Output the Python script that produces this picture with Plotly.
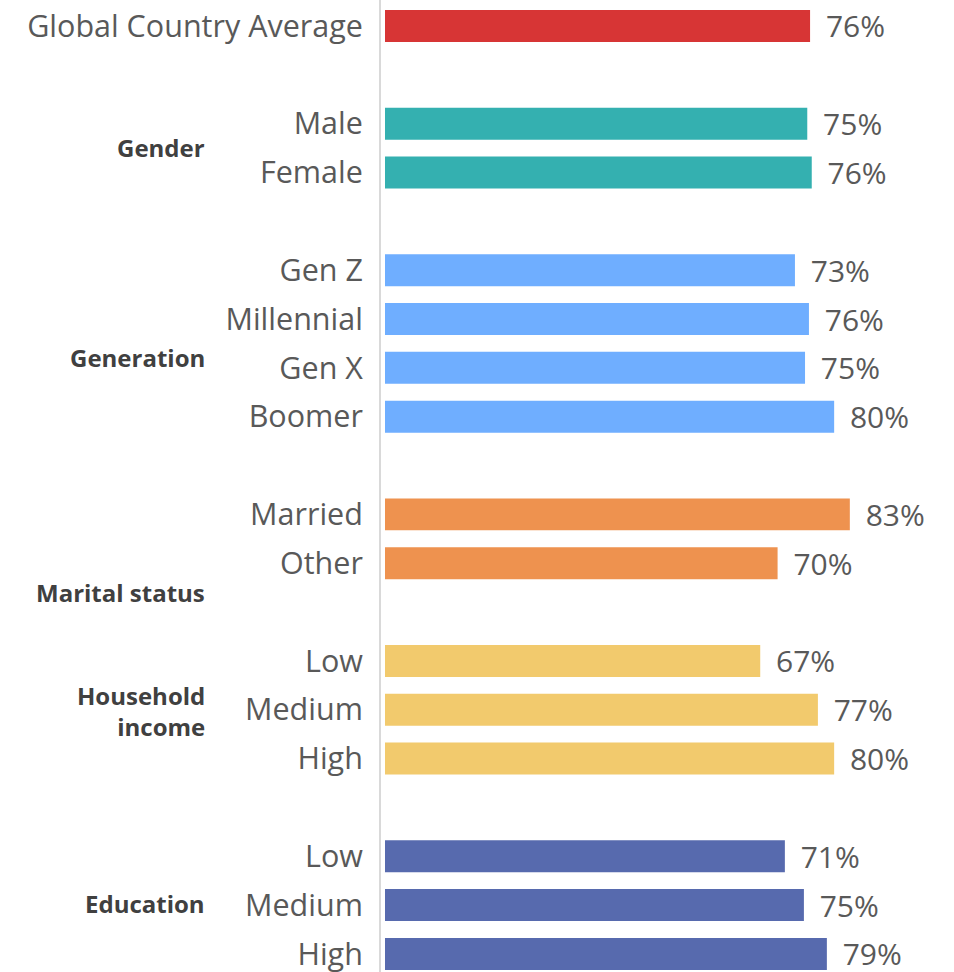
import plotly.graph_objects as go

# ---- data ----
global_label = ["Global Country Average"]
global_values = [75.9]

gender_labels = ["Male", "Female"]
gender_values = [75.4, 76.2]

generation_labels = ["Gen Z", "Millennial", "Gen X", "Boomer"]
generation_values = [73.2, 75.7, 75.0, 80.2]

marital_labels = ["Married", "Other"]
marital_values = [83.0, 70.1]

income_labels = ["Low", "Medium", "High"]
income_values = [67.0, 77.3, 80.2]

education_labels = ["Low", "Medium", "High"]
education_values = [71.4, 74.8, 78.9]

group_names = ["", "Gender", "Generation", "Marital status", "Household<br>income", "Education"]

# ---- styling ----
colors = ["#D73535", "#34B0B0", "#6FAEFF", "#EE924F", "#F2CA6D", "#576AAE"]
groups = [
    (global_label, global_values),
    (gender_labels, gender_values),
    (generation_labels, generation_values),
    (marital_labels, marital_values),
    (income_labels, income_values),
    (education_labels, education_values),
]
# vertical offsets of the group captions relative to group's first row
caption_offset = [None, 0.48, 1.78, 1.59, 1.03, 0.96]

ys, xs, labels, bar_colors = [], [], [], []
caption_pos = []
pos = 0
for gi, (labs, vals) in enumerate(groups):
    start = pos
    for lab, v in zip(labs, vals):
        ys.append(pos)
        xs.append(v)
        labels.append(lab)
        bar_colors.append(colors[gi])
        pos += 1
    caption_pos.append(start)
    pos += 1  # blank row between groups

fig = go.Figure()
fig.add_trace(go.Bar(
    x=xs, y=ys, orientation="h",
    marker=dict(color=bar_colors, line=dict(width=0)),
    width=0.655,
    texttemplate=" \u2006%{x:.0f}%",
    textposition="outside",
    textfont=dict(family="Open Sans", size=30, color="#595959"),
    constraintext="none",
    cliponaxis=False,
    hoverinfo="skip",
))

annotations = []
for gi, name in enumerate(group_names):
    if not name:
        continue
    annotations.append(dict(
        xref="paper", yref="y",
        x=-0.304, y=caption_pos[gi] + caption_offset[gi],
        text="<b>" + name + "</b>",
        showarrow=False, xanchor="right", yanchor="middle", align="right",
        font=dict(family="Open Sans", size=24, color="#404040"),
    ))

fig.update_layout(
    width=954, height=972,
    margin=dict(l=381, r=0, t=0, b=0, autoexpand=False),
    paper_bgcolor="white", plot_bgcolor="white",
    showlegend=False,
    annotations=annotations,
    xaxis=dict(range=[-0.714, 101.6], visible=False, showgrid=False,
               zeroline=False, automargin=False),
    yaxis=dict(
        range=[19.37, -0.532],
        tickmode="array", tickvals=ys, ticktext=labels,
        tickfont=dict(family="Open Sans", size=30.5, color="#595959"),
        showgrid=False, zeroline=False, automargin=False,
        showline=True, linecolor="#D9D9D9", linewidth=2,
        ticks="", ticklabelstandoff=10, ticklabeloverflow="allow",
    ),
)

fig.write_html(
    "out.html",
    config={"displayModeBar": False},
    post_script="document.body.style.margin='0';document.body.style.overflow='hidden';",
)
